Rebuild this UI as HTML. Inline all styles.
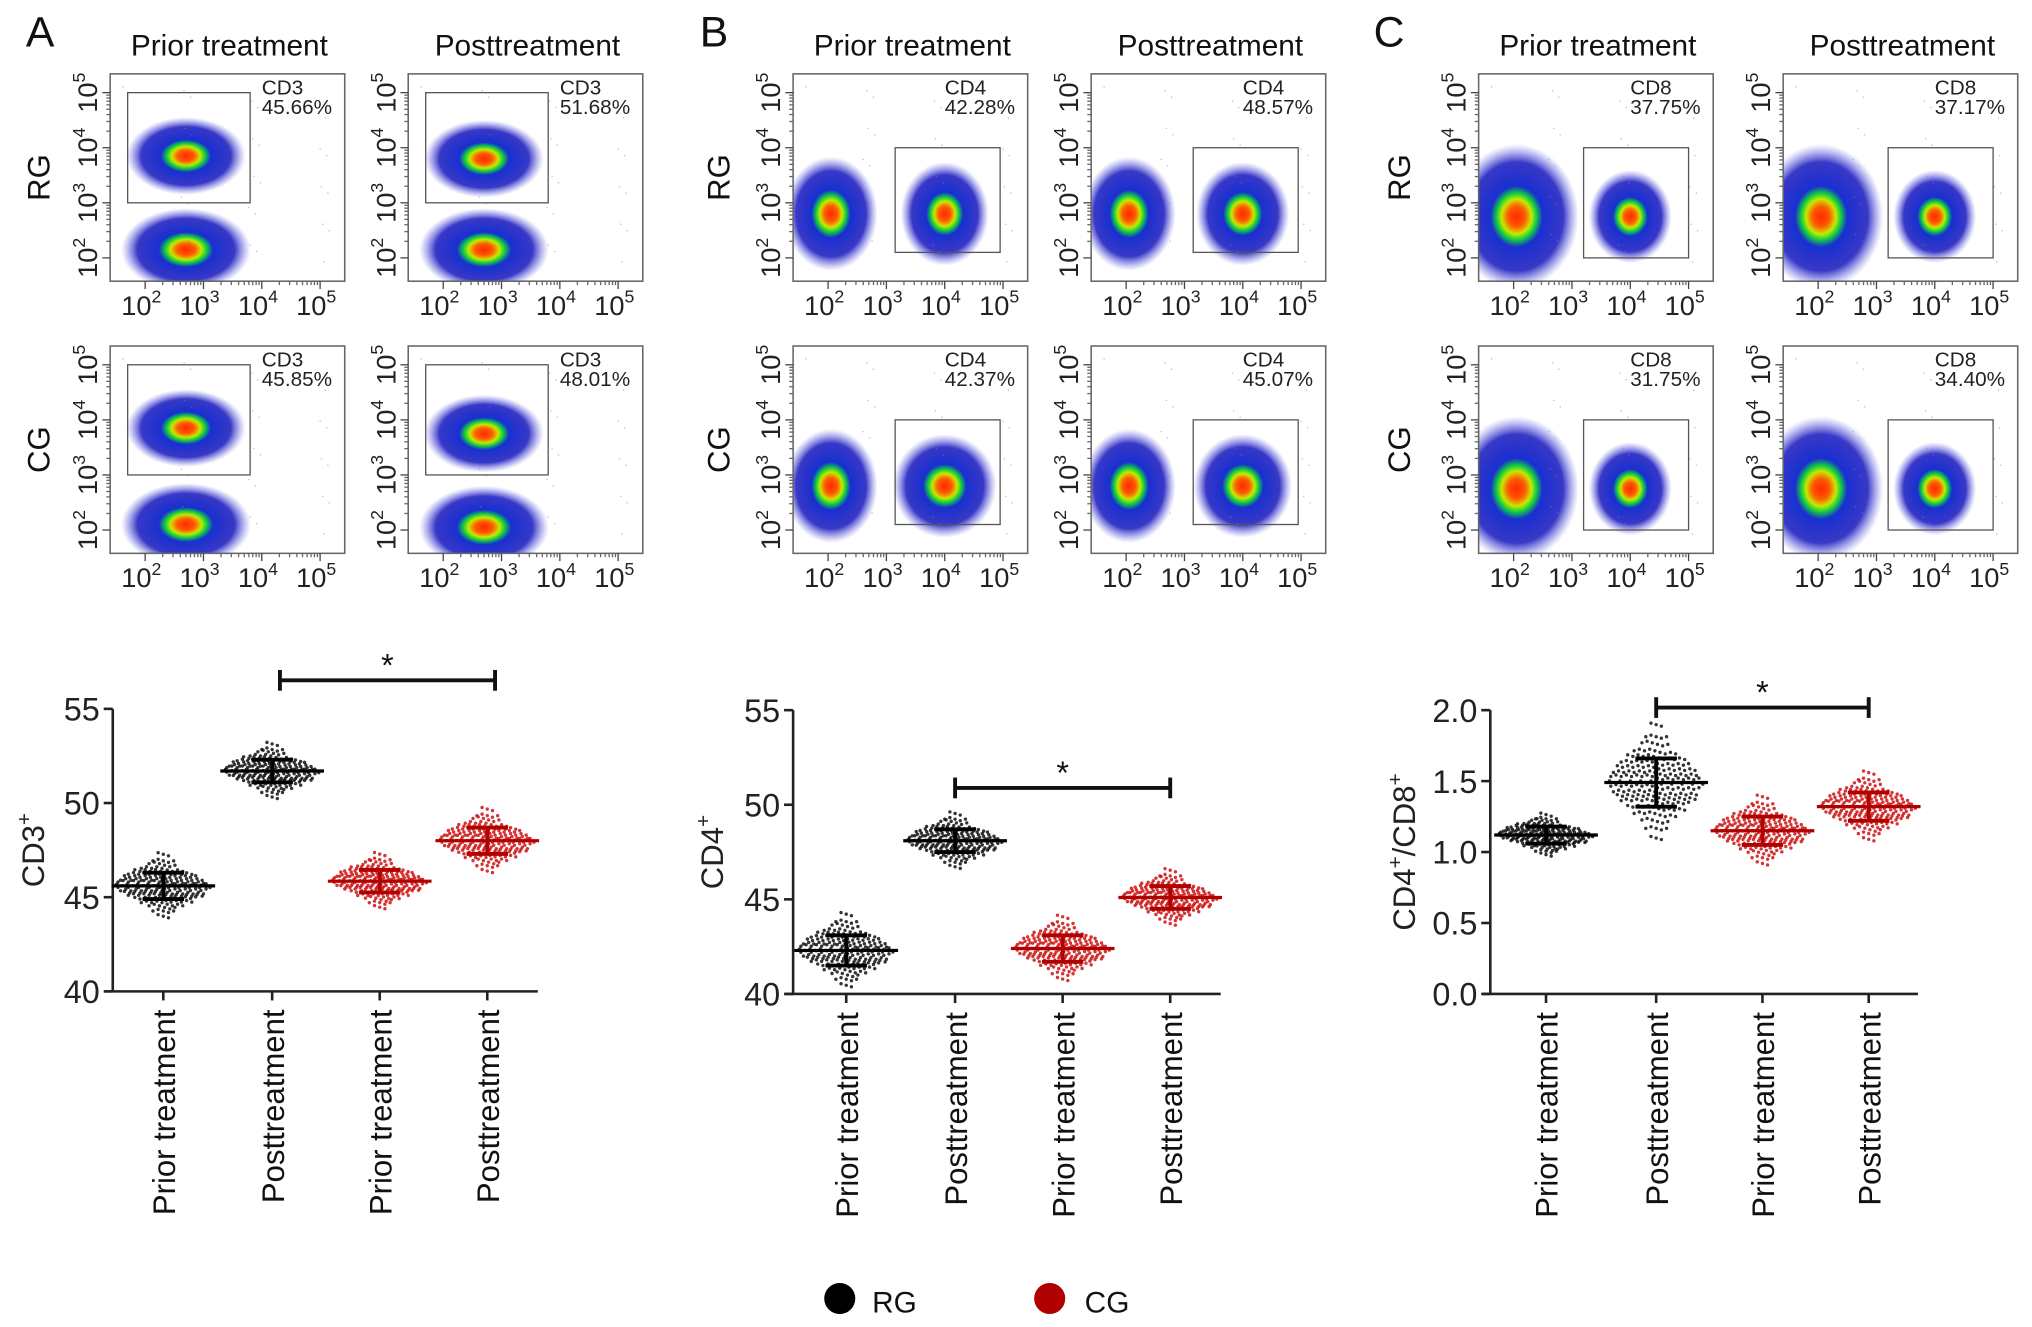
<!DOCTYPE html>
<html><head><meta charset="utf-8"><style>
html,body{margin:0;padding:0;background:#fff;}
svg{display:block;font-family:"Liberation Sans",Arial,sans-serif;}
</style></head><body>
<svg id="fig" width="2032" height="1327" viewBox="0 0 1568 1024" xmlns="http://www.w3.org/2000/svg">
<defs>
<radialGradient id="blob" cx="50%" cy="50%" r="50%">
<stop offset="0" stop-color="#ff2a00"/>
<stop offset="0.14" stop-color="#ff5a00"/>
<stop offset="0.24" stop-color="#c8e800"/>
<stop offset="0.32" stop-color="#10d040"/>
<stop offset="0.42" stop-color="#1830d0"/>
<stop offset="0.75" stop-color="#2222c0" stop-opacity="0.9"/>
<stop offset="1" stop-color="#6060e8" stop-opacity="0"/>
</radialGradient>
</defs>
<g id="root"></g>
</svg>
<script>
// ---- Scatter chart data ----
const categories = ["Prior treatment","Posttreatment","Prior treatment","Posttreatment"];
const groups = ["RG","RG","CG","CG"];
const cd3Means = [45.6, 51.7, 45.85, 48.0];
const cd3Sd = [0.7, 0.6, 0.6, 0.7];
const cd4Means = [42.3, 48.1, 42.4, 45.1];
const cd4Sd = [0.8, 0.6, 0.7, 0.6];
const ratioMeans = [1.12, 1.49, 1.15, 1.32];
const ratioSd = [0.06, 0.17, 0.1, 0.1];
const cd3Ticks = [40, 45, 50, 55];
const cd4Ticks = [40, 45, 50, 55];
const ratioTicks = ["0.0","0.5","1.0","1.5","2.0"];
// ---- Flow gate data ----
const cd3Pct = ["45.66%","51.68%","45.85%","48.01%"];
const cd4Pct = ["42.28%","48.57%","42.37%","45.07%"];
const cd8Pct = ["37.75%","37.17%","31.75%","34.40%"];

const NS="http://www.w3.org/2000/svg";
const root=document.getElementById('root');
function el(tag,attrs,parent,text){const e=document.createElementNS(NS,tag);for(const k in attrs)e.setAttribute(k,attrs[k]);if(text!==undefined)e.textContent=text;(parent||root).appendChild(e);return e;}

function sup(parent,x,y,base,exp,size,anchor,rot){
  const t=el('text',{x:x,y:y,'font-size':size,'text-anchor':anchor||'middle',fill:'#222'},parent);
  if(rot)t.setAttribute('transform',rot);
  el('tspan',{},t,base);
  el('tspan',{dy:-size*0.45,'font-size':size*0.65},t,exp);
  return t;
}

// ---------- Flow plots ----------
function flowPlot(x0,y0,kind,idx,pct,label){
  const g=el('g',{},root);
  
  
  const W=181,H=160;
  const X=v=>x0+27+(v-2)*45, Y=v=>y0+142-(v-2)*42.5;
  let blobs;
  if(kind==='CD3'){
    blobs=[[2.7,[3.85,3.8,3.85,3.75][idx],46,30],[2.7,[2.15,2.15,2.1,2.05][idx],50,32]];
  } else if(kind==='CD4'){
    blobs=[[2.05,2.8,36,44],[4.0,2.8,[34,36,40,38][idx],40]];
  } else {
    blobs=[[2.05,2.75,48,56],[4.0,2.75,32,36]];
  }
  const clip='clip'+x0+'_'+y0;
  const cp=el('clipPath',{id:clip},g);
  el('rect',{x:x0,y:y0,width:W,height:H},cp);
  const bg=el('g',{'clip-path':'url(#'+clip+')'},g);
  blobs.forEach(b=>{el('ellipse',{cx:X(b[0]),cy:Y(b[1]),rx:b[2],ry:b[3],fill:'url(#blob)'},bg);});
  for(let i=0;i<30;i++){const px=x0+10+((i*53)%160), py=y0+10+((i*37)%140);el('circle',{cx:px,cy:py,r:0.6,fill:'#8080e0',opacity:0.5},g);}
  el('rect',{x:x0,y:y0,width:W,height:H,fill:'none',stroke:'#666','stroke-width':1.2},g);
  let gx1,gx2,gy1,gy2;
  if(kind==='CD3'){gx1=X(1.7);gx2=X(3.8);gy1=Y(5.0);gy2=Y(3.0);}
  else if(kind==='CD4'){gx1=X(3.15);gx2=X(4.95);gy1=Y(4.0);gy2=Y(2.1);}
  else {gx1=X(3.2);gx2=X(5.0);gy1=Y(4.0);gy2=Y(2.0);}
  el('rect',{x:gx1,y:gy1,width:gx2-gx1,height:gy2-gy1,fill:'none',stroke:'#555','stroke-width':1},g);
  const tx=x0+117;
  el('text',{x:tx,y:y0+16,'font-size':16,fill:'#222'},g,kind);
  el('text',{x:tx,y:y0+31,'font-size':16,fill:'#222'},g,pct);
  for(let v=2;v<=5;v++){
    el('line',{x1:X(v),x2:X(v),y1:y0+H,y2:y0+H+6,stroke:'#444'},g);
    el('line',{x1:x0,x2:x0-6,y1:Y(v),y2:Y(v),stroke:'#444'},g);
    sup(g,X(v)-3,y0+H+26,'10',String(v),21,'middle');
    sup(g,0,0,'10',String(v),21,'middle','translate('+(x0-10)+','+Y(v)+') rotate(-90)');
    for(let m=2;m<10;m++){const lv=Math.log10(m);
      if(v+lv<=5.3){el('line',{x1:X(v+lv),x2:X(v+lv),y1:y0+H,y2:y0+H+3,stroke:'#666'},g);
      el('line',{x1:x0,x2:x0-3,y1:Y(v+lv),y2:Y(v+lv),stroke:'#666'},g);}}
  }
}
const panels=[
 {letter:'A',lx:20,kind:'CD3',pct:cd3Pct,xs:[85,315],rowX:30},
 {letter:'B',lx:540,kind:'CD4',pct:cd4Pct,xs:[612,842],rowX:555},
 {letter:'C',lx:1060,kind:'CD8',pct:cd8Pct,xs:[1141,1376],rowX:1080}];
panels.forEach(p=>{
  const t=el('text',{x:p.lx,y:36,'font-size':33,fill:'#111'},root,p.letter);
  
  
  ['Prior treatment','Posttreatment'].forEach((s,i)=>{
    const h=el('text',{x:p.xs[i]+92,y:43,'font-size':23,'text-anchor':'middle',fill:'#111'},root,s);
    
    
  });
  ['RG','CG'].forEach((s,r)=>{
    const yy=r?347:137;
    const h=el('text',{x:0,y:0,'font-size':24,'text-anchor':'middle',fill:'#111',transform:'translate('+(p.rowX+8)+','+yy+') rotate(-90)'},root,s);
    
    
  });
  [0,1,2,3].forEach(i=>{flowPlot(p.xs[i%2],i<2?57:267,p.kind,i,p.pct[i],p.kind);});
});

// ---------- Scatter charts ----------
const zq=[-2.3,-1.9,-1.6,-1.3,-1.05,-0.8,-0.6,-0.4,-0.2,0,0.2,0.4,0.6,0.8,1.05,1.3,1.6,1.9,2.4];
function scatterChart(cfg){
  const g=el('g',{},root);
  
  
  const yS=v=>cfg.yb-(v-cfg.min)/(cfg.max-cfg.min)*(cfg.yb-cfg.yt);
  el('line',{x1:cfg.ax,x2:cfg.ax,y1:cfg.yt,y2:cfg.yb,stroke:'#222','stroke-width':2},g);
  el('line',{x1:cfg.ax-6,x2:cfg.xe,y1:cfg.yb,y2:cfg.yb,stroke:'#222','stroke-width':2},g);
  cfg.ticks.forEach(tk=>{const v=parseFloat(tk);
    el('line',{x1:cfg.ax-7,x2:cfg.ax,y1:yS(v),y2:yS(v),stroke:'#222','stroke-width':2},g);
    const t=el('text',{x:cfg.ax-10,y:yS(v)+9,'font-size':25,'text-anchor':'end',fill:'#222'},g,String(tk));
    
    
  });
  const yt=el('text',{x:0,y:0,'font-size':24,'text-anchor':'middle',fill:'#222',transform:'translate('+cfg.titleX+','+((cfg.yt+cfg.yb)/2)+') rotate(-90)'},g);
  
  
  cfg.title.forEach(part=>{el('tspan',part[1]?{dy:-10,'font-size':16}:{dy:part[2]||0},yt,part[0]);});
  categories.forEach((c,i)=>{
    const cx=cfg.cx[i];
    el('line',{x1:cx,x2:cx,y1:cfg.yb,y2:cfg.yb+7,stroke:'#222','stroke-width':2},g);
    const t=el('text',{x:0,y:0,'font-size':24,'text-anchor':'end',fill:'#111',transform:'translate('+(cx+9)+','+(cfg.yb+14)+') rotate(-90)'},g,c);
    
    
    const col=groups[i]==='RG'?'#111':'#cc1111';
    const m=cfg.means[i], sd=cfg.sd[i];
    const dots=el('g',{},g);
    
    
    zq.forEach(z=>{
      const w=Math.round(34*Math.exp(-z*z/2))+2;
      const yy=yS(m+z*sd);
      for(let k=-w;k<=w;k+=4){el('circle',{cx:cx+k,cy:yy+((k/4)%2)*1.2,r:1.3,fill:col,opacity:0.85},dots);}
    });
    const mc=groups[i]==='RG'?'#000':'#b00000';
    el('line',{x1:cx-40,x2:cx+40,y1:yS(m),y2:yS(m),stroke:mc,'stroke-width':2.5},g);
    el('line',{x1:cx,x2:cx,y1:yS(m+sd),y2:yS(m-sd),stroke:mc,'stroke-width':3},g);
    el('line',{x1:cx-16,x2:cx+16,y1:yS(m+sd),y2:yS(m+sd),stroke:mc,'stroke-width':3},g);
    el('line',{x1:cx-16,x2:cx+16,y1:yS(m-sd),y2:yS(m-sd),stroke:mc,'stroke-width':3},g);
  });
  const b=el('g',{},g);
  
  
  const x1=cfg.cx[1]+cfg.bOff,x2=cfg.cx[3]+cfg.bOff;
  el('line',{x1:x1,x2:x2,y1:cfg.by,y2:cfg.by,stroke:'#111','stroke-width':3},b);
  el('line',{x1:x1,x2:x1,y1:cfg.by-8,y2:cfg.by+8,stroke:'#111','stroke-width':3},b);
  el('line',{x1:x2,x2:x2,y1:cfg.by-8,y2:cfg.by+8,stroke:'#111','stroke-width':3},b);
  el('text',{x:(x1+x2)/2,y:cfg.by-3,'font-size':25,'text-anchor':'middle',fill:'#111'},b,'*');
}
scatterChart({name:'cd3-scatter-chart',ax:87,xe:415,yt:547,yb:765,min:40,max:55,ticks:cd3Ticks,means:cd3Means,sd:cd3Sd,cx:[126,210,293,376],by:525,bOff:6,titleX:34,title:[['CD3'],['+',1]]});
scatterChart({name:'cd4-scatter-chart',ax:612,xe:942,yt:548,yb:767,min:40,max:55,ticks:cd4Ticks,means:cd4Means,sd:cd4Sd,cx:[653,737,820,903],by:608,bOff:0,titleX:558,title:[['CD4'],['+',1]]});
scatterChart({name:'ratio-scatter-chart',ax:1150,xe:1480,yt:548,yb:767,min:0,max:2,ticks:ratioTicks,means:ratioMeans,sd:ratioSd,cx:[1193,1278,1360,1442],by:546,bOff:0,titleX:1092,title:[['CD4'],['+',1],['/CD8',0,10],['+',1]]});

const lg=el('g',{},root);


const l1=el('g',{},lg);


el('circle',{cx:648,cy:1002,r:12,fill:'#000'},l1);
el('text',{x:673,y:1013,'font-size':23,fill:'#111'},l1,'RG');
const l2=el('g',{},lg);


el('circle',{cx:810,cy:1002,r:12,fill:'#b00000'},l2);
el('text',{x:837,y:1013,'font-size':23,fill:'#111'},l2,'CG');
</script>
</body></html>
